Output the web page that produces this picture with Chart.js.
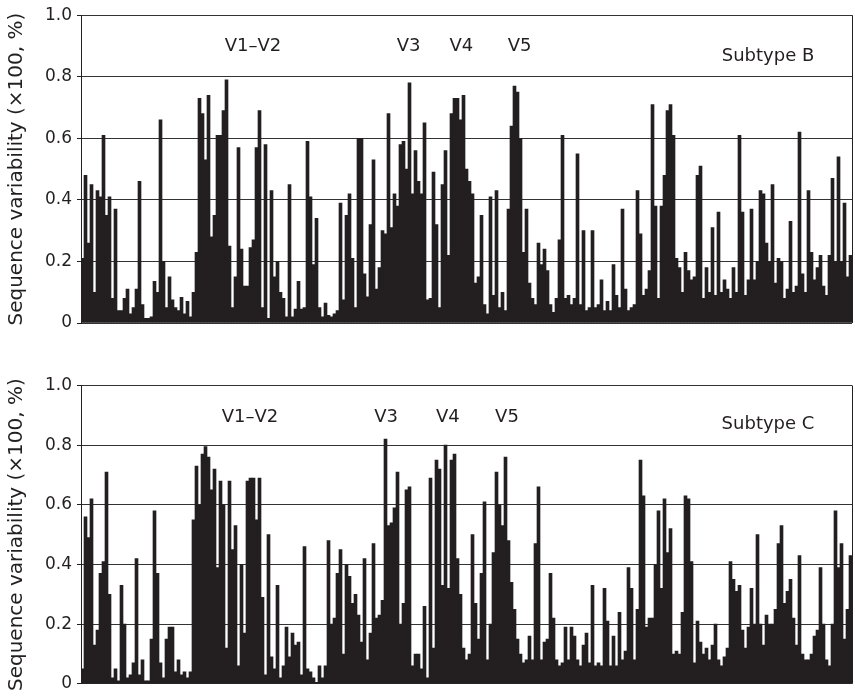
<!DOCTYPE html>
<html lang="en">
<head>
  <meta charset="UTF-8">
  <title>Sequence variability, subtypes B and C</title>
  <style>
    body { margin: 0; background: #fff; }
    #wrap { position: relative; width: 855px; height: 699px; }
    canvas { position: absolute; left: 0; }
    #chartB { top: 0; }
    #chartC { top: 350px; }
  </style>
</head>
<body>
  <div id="wrap">
    <canvas id="chartB" width="855" height="350"></canvas>
    <canvas id="chartC" width="855" height="349"></canvas>
  </div>

  <script src="https://cdn.jsdelivr.net/npm/chart.js"></script>
  <script>
    // axis and region labels
    const tickLabels = ['0', '0.2', '0.4', '0.6', '0.8', '1.0'];
    const regionNames = ['V1–V2', 'V3', 'V4', 'V5'];

    // variability along env (one value per ~3 px column)
    const subtypeB = [
      0.21, 0.48, 0.26, 0.45, 0.10, 0.43, 0.41, 0.61, 0.35, 0.41,
      0.08, 0.37, 0.04, 0.04, 0.08, 0.11, 0.03, 0.05, 0.11, 0.46,
      0.06, 0.015, 0.015, 0.02, 0.135, 0.10, 0.66, 0.20, 0.05, 0.15,
      0.075, 0.05, 0.04, 0.083, 0.03, 0.07, 0.02, 0.10, 0.23, 0.73,
      0.68, 0.53, 0.74, 0.28, 0.35, 0.61, 0.61, 0.69, 0.79, 0.25,
      0.05, 0.15, 0.57, 0.24, 0.12, 0.12, 0.245, 0.27, 0.57, 0.69,
      0.05, 0.58, 0.015, 0.43, 0.15, 0.20, 0.10, 0.08, 0.02, 0.45,
      0.02, 0.045, 0.135, 0.045, 0.05, 0.59, 0.41, 0.19, 0.34, 0.05,
      0.02, 0.065, 0.025, 0.02, 0.03, 0.04, 0.39, 0.075, 0.35, 0.42,
      0.21, 0.05, 0.60, 0.60, 0.16, 0.085, 0.32, 0.53, 0.11, 0.18,
      0.30, 0.29, 0.68, 0.31, 0.42, 0.38, 0.58, 0.59, 0.50, 0.78,
      0.42, 0.56, 0.46, 0.42, 0.65, 0.075, 0.08, 0.49, 0.32, 0.05,
      0.45, 0.56, 0.22, 0.68, 0.73, 0.73, 0.66, 0.74, 0.50, 0.46,
      0.42, 0.13, 0.15, 0.35, 0.06, 0.03, 0.41, 0.09, 0.43, 0.05,
      0.10, 0.04, 0.37, 0.64, 0.77, 0.75, 0.60, 0.23, 0.37, 0.13,
      0.08, 0.06, 0.26, 0.19, 0.24, 0.17, 0.06, 0.035, 0.08, 0.27,
      0.61, 0.08, 0.09, 0.06, 0.08, 0.55, 0.06, 0.30, 0.04, 0.05,
      0.30, 0.05, 0.06, 0.14, 0.04, 0.07, 0.04, 0.19, 0.09, 0.05,
      0.37, 0.11, 0.04, 0.05, 0.06, 0.43, 0.29, 0.09, 0.11, 0.17,
      0.71, 0.38, 0.08, 0.38, 0.48, 0.69, 0.71, 0.61, 0.21, 0.18,
      0.10, 0.23, 0.17, 0.14, 0.15, 0.48, 0.51, 0.08, 0.18, 0.10,
      0.31, 0.09, 0.36, 0.10, 0.14, 0.11, 0.08, 0.18, 0.10, 0.61,
      0.36, 0.09, 0.14, 0.37, 0.14, 0.20, 0.43, 0.42, 0.26, 0.20,
      0.45, 0.13, 0.21, 0.20, 0.08, 0.11, 0.33, 0.10, 0.12, 0.62,
      0.16, 0.10, 0.43, 0.23, 0.14, 0.18, 0.22, 0.12, 0.09, 0.22,
      0.47, 0.20, 0.54, 0.20, 0.39, 0.15, 0.22
    ];

    const subtypeC = [
      0.05, 0.56, 0.49, 0.62, 0.13, 0.18, 0.37, 0.41, 0.71, 0.30,
      0.02, 0.05, 0.01, 0.33, 0.20, 0.02, 0.03, 0.07, 0.42, 0.03,
      0.08, 0.01, 0.01, 0.15, 0.58, 0.37, 0.07, 0.02, 0.15, 0.19,
      0.19, 0.04, 0.08, 0.03, 0.04, 0.02, 0.04, 0.55, 0.73, 0.60,
      0.77, 0.795, 0.76, 0.65, 0.72, 0.39, 0.68, 0.60, 0.12, 0.68,
      0.45, 0.53, 0.06, 0.40, 0.17, 0.68, 0.69, 0.69, 0.55, 0.69,
      0.29, 0.03, 0.50, 0.09, 0.05, 0.33, 0.02, 0.06, 0.19, 0.09,
      0.17, 0.13, 0.14, 0.03, 0.46, 0.05, 0.04, 0.02, 0.005, 0.06,
      0.02, 0.06, 0.48, 0.20, 0.22, 0.37, 0.45, 0.10, 0.40, 0.36,
      0.27, 0.30, 0.23, 0.14, 0.42, 0.08, 0.17, 0.47, 0.22, 0.23,
      0.28, 0.82, 0.53, 0.54, 0.59, 0.71, 0.20, 0.27, 0.65, 0.66,
      0.06, 0.10, 0.10, 0.05, 0.26, 0.02, 0.69, 0.12, 0.75, 0.72,
      0.33, 0.80, 0.32, 0.75, 0.77, 0.42, 0.30, 0.12, 0.08, 0.10,
      0.50, 0.27, 0.15, 0.37, 0.61, 0.08, 0.20, 0.44, 0.71, 0.60,
      0.53, 0.76, 0.48, 0.34, 0.25, 0.15, 0.10, 0.07, 0.08, 0.16,
      0.08, 0.47, 0.66, 0.08, 0.14, 0.15, 0.37, 0.22, 0.08, 0.06,
      0.07, 0.19, 0.08, 0.19, 0.16, 0.08, 0.06, 0.13, 0.17, 0.07,
      0.33, 0.06, 0.07, 0.06, 0.32, 0.21, 0.06, 0.16, 0.06, 0.24,
      0.08, 0.11, 0.39, 0.32, 0.08, 0.25, 0.75, 0.63, 0.19, 0.22,
      0.22, 0.40, 0.58, 0.32, 0.62, 0.44, 0.52, 0.10, 0.11, 0.10,
      0.24, 0.63, 0.62, 0.41, 0.07, 0.21, 0.14, 0.10, 0.12, 0.08,
      0.13, 0.20, 0.08, 0.06, 0.09, 0.12, 0.41, 0.35, 0.31, 0.33,
      0.18, 0.12, 0.19, 0.32, 0.20, 0.50, 0.20, 0.13, 0.23, 0.20,
      0.20, 0.25, 0.47, 0.53, 0.27, 0.31, 0.35, 0.22, 0.13, 0.43,
      0.10, 0.08, 0.08, 0.10, 0.16, 0.18, 0.39, 0.20, 0.08, 0.06,
      0.20, 0.58, 0.39, 0.47, 0.15, 0.25, 0.43
    ];

    const positions = subtypeB.map((_, i) => i + 1);

    const ink = '#231f20';
    const face = '"DejaVu Sans", "Liberation Sans", Arial, sans-serif';

    // region/subtype label placement: x in bar index, y in axis units
    const panelB = { title: 'Subtype B', titleAt: [228.5, 0.865], regionAt: [56.8, 108.7, 126.3, 145.7], regionY: 0.9 };
    const panelC = { title: 'Subtype C', titleAt: [228.5, 0.87], regionAt: [55.8, 101.2, 121.8, 141.5], regionY: 0.894 };

    // right frame line + the text labels inside the plot
    const panelDecor = {
      id: 'panelDecor',
      afterDraw(chart, args, opts) {
        const { ctx, chartArea: a, scales: { x, y } } = chart;
        ctx.save();
        ctx.strokeStyle = ink;
        ctx.lineWidth = 1;
        ctx.beginPath();
        ctx.moveTo(Math.round(a.right) + 0.5, a.top);
        ctx.lineTo(Math.round(a.right) + 0.5, a.bottom);
        ctx.stroke();

        ctx.fillStyle = ink;
        ctx.font = '18px ' + face;
        ctx.textAlign = 'center';
        ctx.textBaseline = 'middle';
        opts.regionAt.forEach((p, i) => {
          ctx.fillText(regionNames[i], x.getPixelForValue(p), y.getPixelForValue(opts.regionY));
        });
        ctx.fillText(opts.title, x.getPixelForValue(opts.titleAt[0]), y.getPixelForValue(opts.titleAt[1]));
        ctx.restore();
      }
    };

    function makePanel(id, values, text, pad) {
      return new Chart(document.getElementById(id), {
        type: 'bar',
        data: {
          labels: positions,
          datasets: [{
            data: values,
            backgroundColor: ink,
            borderWidth: 0,
            barPercentage: 1,
            categoryPercentage: 1
          }]
        },
        options: {
          responsive: false,
          animation: false,
          events: [],
          layout: { padding: pad },
          plugins: {
            legend: { display: false },
            tooltip: { enabled: false },
            panelDecor: text
          },
          scales: {
            x: { display: false },
            y: {
              min: 0,
              max: 1,
              afterFit(scale) { scale.width = 81; },
              ticks: {
                stepSize: 0.2,
                padding: 5,
                color: ink,
                font: { family: face, size: 17 },
                callback: (v, i) => tickLabels[i]
              },
              grid: { color: '#333', lineWidth: 1, tickLength: 4, tickColor: ink },
              border: { display: true, color: ink, width: 1 },
              title: {
                display: true,
                text: 'Sequence variability (×100, %)',
                color: ink,
                font: { family: face, size: 20 },
                padding: { top: 5, bottom: 0 }
              }
            }
          }
        },
        plugins: [panelDecor]
      });
    }

    makePanel('chartB', subtypeB, panelB, { left: 0, right: 3, top: 13, bottom: 27 });
    makePanel('chartC', subtypeC, panelC, { left: 0, right: 3, top: 35.5, bottom: 10.5 });
  </script>
</body>
</html>
